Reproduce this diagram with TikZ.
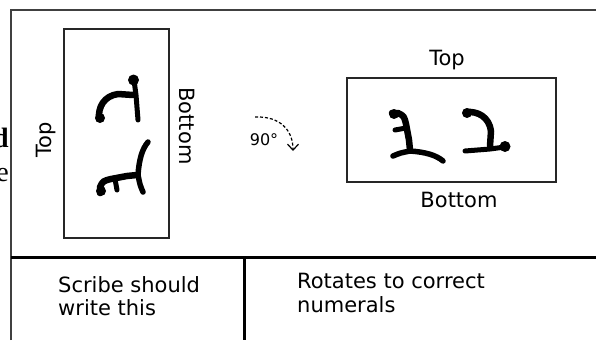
\documentclass[tikz,border=0pt]{standalone}
\usepackage{fontspec}
\setmainfont{DejaVu Sans}
\newfontfamily\pagefont{Liberation Serif}
\usetikzlibrary{arrows.meta}
\begin{document}
\begin{tikzpicture}[x=1pt,y=-1pt,
  frame/.style={line width=2pt, draw=black!75},
  divider/.style={line width=3pt, draw=black},
  box/.style={draw=black!85, line width=1.3pt, inner sep=0pt},
  label/.style={font=\fontsize{21}{24}\selectfont, inner sep=0pt},
  caption/.style={font=\fontsize{21}{24}\selectfont, inner sep=0pt, anchor=base west},
  glyph/.style={line width=6.5pt, line cap=round, line join=round},
  blob/.style={fill=black},
]
\useasboundingbox[fill=white] (0,0) rectangle (596,340);

% text of the neighbouring column, cut off by the frame
\begin{scope}
  \clip (0,0) rectangle (9.5,340);
  \node[anchor=base east, inner sep=0pt, font=\pagefont\fontsize{28}{30}\selectfont\bfseries] (fragd) at (9,147) {d};
  \node[anchor=base east, inner sep=0pt, font=\pagefont\fontsize{28}{30}\selectfont] (frage) at (9,181) {e};
\end{scope}

% outer frame and table rules
\coordinate (fbl) at (11,340);
\coordinate (ftl) at (11,10);
\coordinate (ftr) at (596,10);
\coordinate (ml) at (11,257);
\coordinate (mr) at (596,257);
\coordinate (mm) at (244,257);
\coordinate (mb) at (244,340);
\draw[frame] (fbl) -- (ftl) -- (ftr);
\draw[divider] (ml) -- (mr);
\draw[divider] (mm) -- (mb);

% the two panels
\node[box, minimum width=105pt, minimum height=209pt] (lbox) at (116.5,133.5) {};
\node[box, minimum width=209pt, minimum height=104pt] (rbox) at (451.5,130) {};

% orientation labels
\node[label, rotate=90] (ltop) at (46,140) {Top};
\node[label, rotate=-90] (lbottom) at (187,126) {Bottom};
\node[label] (rtop) at (447,60) {Top};
\node[label] (rbottom) at (459,200) {Bottom};

% rotation mark
\node[inner sep=0pt, font=\fontsize{16}{18}\selectfont] (deg) at (264,140) {90°};
\coordinate (arcstart) at (255,117);
\coordinate (arcend) at (293,151);
\draw[line width=1.2pt, dash pattern=on 3pt off 2pt,
      -{Straight Barb[length=6pt,width=11pt,line width=1.2pt]}]
  (arcstart) .. controls (280,116) and (293,130) .. (arcend);

% numerals in reading position
\newcommand{\numerals}{%
  % two-shaped sign
  \draw[glyph] (466,112) .. controls (478,111) and (489,117) .. (491,131) -- (490,146);
  \draw[glyph, line width=5pt] (465,151) -- (490,149) -- (505,147);
  \fill[blob] (467,113) circle (5);
  \fill[blob] (505,146.5) circle (5.5);
  % three-shaped sign
  \draw[glyph] (392,113) -- (398,113) .. controls (404,116) .. (406,124)
        .. controls (408,132) .. (409,140) -- (410,150);
  \draw[glyph, line width=5pt] (395,130) -- (406,128);
  \draw[glyph, line width=5.5pt] (393,156) .. controls (400,153) .. (410,151)
        .. controls (425,152) and (436,155) .. (443,161);
  \fill[blob] (394,114) circle (5);
}
\numerals
% the same signs as the scribe writes them
\begin{scope}[shift={(117,98)}, rotate=90, shift={(-487,-130)}]
  \numerals
\end{scope}

% captions
\node[caption] (scribe1) at (58,292) {Scribe should};
\node[caption] (scribe2) at (58,315) {write this};
\node[caption] (rot1) at (297,288) {Rotates to correct};
\node[caption] (rot2) at (297,312) {numerals};
\end{tikzpicture}
\end{document}
